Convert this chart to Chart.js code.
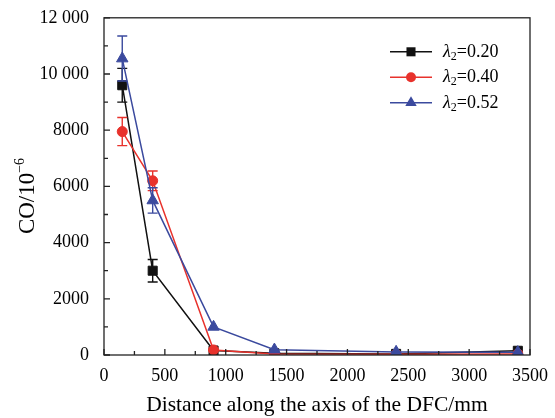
<!DOCTYPE html>
<html>
<head>
<meta charset="utf-8">
<script src="https://cdn.jsdelivr.net/npm/chart.js@4.4.0/dist/chart.umd.min.js"></script>
<style>
    html, body { margin: 0; padding: 0; background: #fff; }
</style>
</head>
<body>
<canvas id="coChart" width="555" height="418"></canvas>
<script>
// data
const distances = [150, 400, 900, 1400, 2400, 3400];
const lambdaNames = ['0.20', '0.40', '0.52'];
const co020 = [9600, 3000, 160, 60, 40, 150];
const co040 = [7950, 6200, 180, 40, 30, 40];
const co052 = [10550, 5500, 1000, 190, 110, 100];
const err020 = [600, 400, 0, 0, 0, 0];
const err040 = [500, 350, 0, 0, 0, 0];
const err052 = [800, 450, 0, 0, 0, 0];
const xTickLabels = [0, 500, 1000, 1500, 2000, 2500, 3000, 3500];
const yTickLabels = [0, 2000, 4000, 6000, 8000, 10000, 12000];

const serif = "'Liberation Serif', 'Times New Roman', serif";
const colors = ['#111111', '#e8322c', '#3b4a9e'];
const styles = ['rect', 'circle', 'triangle'];
const radii = [6.4, 5, 6.6];
const seriesValues = [co020, co040, co052];
const seriesErrors = [err020, err040, err052];

function fmtY(v) {
    if (v >= 10000) {
        const s = String(v);
        return s.slice(0, s.length - 3) + ' ' + s.slice(-3);
    }
    return String(v);
}

// vertical error bars, drawn under each series
const errorBars = {
    id: 'errorBars',
    beforeDatasetDraw(chart, args) {
        const ds = chart.data.datasets[args.index];
        if (!ds.errors) return;
        const { ctx } = chart;
        const xs = chart.scales.x, ys = chart.scales.y;
        ctx.save();
        ctx.strokeStyle = ds.borderColor;
        ctx.lineWidth = 1.4;
        ds.data.forEach((p, i) => {
            const e = ds.errors[i];
            if (!e) return;
            const px = xs.getPixelForValue(p.x);
            const top = ys.getPixelForValue(p.y + e);
            const bot = ys.getPixelForValue(p.y - e);
            ctx.beginPath();
            ctx.moveTo(px, top); ctx.lineTo(px, bot);
            ctx.moveTo(px - 5, top); ctx.lineTo(px + 5, top);
            ctx.moveTo(px - 5, bot); ctx.lineTo(px + 5, bot);
            ctx.stroke();
        });
        ctx.restore();
    }
};

// box frame with inward ticks, plus the rotated y title
const frameTicks = {
    id: 'frameTicks',
    afterDraw(chart) {
        const { ctx, chartArea: a } = chart;
        const xs = chart.scales.x, ys = chart.scales.y;
        ctx.save();
        ctx.strokeStyle = '#222';
        ctx.lineWidth = 1.3;
        ctx.strokeRect(a.left, a.top, a.right - a.left, a.bottom - a.top);
        ctx.beginPath();
        xs.ticks.forEach(t => {
            const px = xs.getPixelForValue(t.value);
            const len = t.value % 500 === 0 ? 6 : 4;
            ctx.moveTo(px, a.bottom); ctx.lineTo(px, a.bottom - len);
        });
        ys.ticks.forEach(t => {
            const py = ys.getPixelForValue(t.value);
            const len = t.value % 2000 === 0 ? 6 : 4;
            ctx.moveTo(a.left, py); ctx.lineTo(a.left + len, py);
        });
        ctx.stroke();

        // y title: CO/10^-6
        ctx.translate(28, 196);
        ctx.rotate(-Math.PI / 2);
        ctx.fillStyle = '#000';
        ctx.textBaseline = 'middle';
        ctx.font = '23px ' + serif;
        const main = 'CO/10';
        ctx.font = '14px ' + serif;
        const sup = '\u22126';
        const supW = ctx.measureText(sup).width;
        ctx.font = '23px ' + serif;
        const mainW = ctx.measureText(main).width;
        let tx = -(mainW + supW) / 2;
        ctx.fillText(main, tx, 0);
        ctx.font = '14px ' + serif;
        ctx.fillText(sup, tx + mainW, -8);
        ctx.restore();
    }
};

function drawMarker(ctx, style, r, x, y) {
    ctx.beginPath();
    if (style === 'rect') {
        const s = r * Math.SQRT1_2;
        ctx.rect(x - s, y - s, 2 * s, 2 * s);
    } else if (style === 'circle') {
        ctx.arc(x, y, r, 0, Math.PI * 2);
    } else {
        ctx.moveTo(x, y - r);
        ctx.lineTo(x + r * Math.sin(Math.PI / 3), y + r / 2);
        ctx.lineTo(x - r * Math.sin(Math.PI / 3), y + r / 2);
        ctx.closePath();
    }
    ctx.fill();
}

// legend: line + marker, italic lambda with subscript 2
const lambdaLegend = {
    id: 'lambdaLegend',
    afterDraw(chart) {
        const { ctx, chartArea: a } = chart;
        const x0 = a.right - 140;
        chart.data.datasets.forEach((ds, i) => {
            const y = a.top + 34 + i * 25.5;
            ctx.save();
            ctx.strokeStyle = ds.borderColor;
            ctx.fillStyle = ds.borderColor;
            ctx.lineWidth = 1.5;
            ctx.beginPath();
            ctx.moveTo(x0, y); ctx.lineTo(x0 + 42, y);
            ctx.stroke();
            drawMarker(ctx, styles[i], radii[i], x0 + 21, y);
            ctx.fillStyle = '#000';
            ctx.textBaseline = 'middle';
            let tx = x0 + 53;
            ctx.font = 'italic 18px ' + serif;
            ctx.fillText('λ', tx, y);
            tx += ctx.measureText('λ').width;
            ctx.font = '12px ' + serif;
            ctx.fillText('2', tx, y + 5);
            tx += ctx.measureText('2').width;
            ctx.font = '18px ' + serif;
            ctx.fillText('=' + lambdaNames[i], tx, y);
            ctx.restore();
        });
    }
};

const datasets = seriesValues.map((vals, i) => ({
    label: 'λ2=' + lambdaNames[i],
    data: distances.map((d, k) => ({ x: d, y: vals[k] })),
    errors: seriesErrors[i],
    borderColor: colors[i],
    backgroundColor: colors[i],
    borderWidth: 1.5,
    pointStyle: styles[i],
    pointRadius: radii[i],
    pointBorderWidth: 1,
    tension: 0,
    order: 3 - i
}));

new Chart(document.getElementById('coChart'), {
    type: 'line',
    data: { datasets: datasets },
    options: {
        responsive: false,
        animation: false,
        layout: { autoPadding: false, padding: { left: 0, right: 25, top: 15, bottom: 0 } },
        plugins: { legend: { display: false }, tooltip: { enabled: false } },
        scales: {
            x: {
                type: 'linear',
                min: 0, max: 3500,
                afterFit: s => { s.height = 63; },
                grid: { display: false },
                border: { display: false },
                ticks: {
                    stepSize: 250,
                    autoSkip: false,
                    maxRotation: 0,
                    padding: 2,
                    color: '#000',
                    font: { family: serif, size: 18 },
                    callback: v => xTickLabels.includes(v) ? String(v) : ''
                },
                title: {
                    display: true,
                    text: 'Distance along the axis of the DFC/mm',
                    color: '#000',
                    font: { family: serif, size: 21.5 },
                    padding: { top: 0, bottom: 0 }
                }
            },
            y: {
                min: 0, max: 12000,
                afterFit: s => { s.width = 104; },
                grid: { display: false },
                border: { display: false },
                ticks: {
                    stepSize: 1000,
                    autoSkip: false,
                    padding: 7,
                    color: '#000',
                    font: { family: serif, size: 18 },
                    callback: v => yTickLabels.includes(v) ? fmtY(v) : ''
                }
            }
        }
    },
    plugins: [errorBars, frameTicks, lambdaLegend]
});
</script>
</body>
</html>
